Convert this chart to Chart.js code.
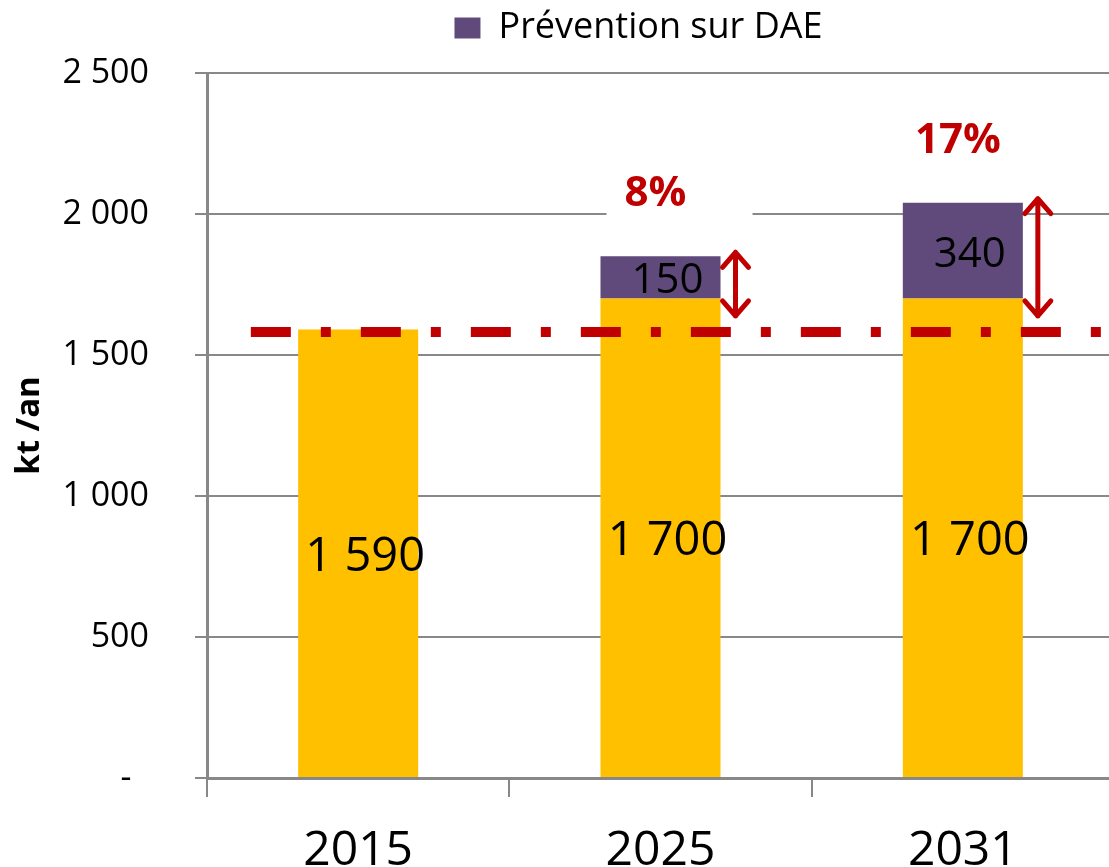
<!DOCTYPE html>
<html>
<head>
<meta charset="utf-8">
<script src="https://cdn.jsdelivr.net/npm/chart.js@4.4.0/dist/chart.umd.min.js"></script>
<style>
html, body { margin: 0; padding: 0; overflow: hidden; background: #ffffff; }
#wrap { width: 1109px; height: 867px; overflow: hidden; }
canvas { display: block; }
</style>
</head>
<body>
<div id="wrap"><canvas id="chart" width="1277" height="867" style="width:1277px;height:867px"></canvas></div>
<script>
// ---- data ----
const categories = ['2015', '2025', '2031'];
const baseName = 'Gisement DAE';
const baseValues = [1590, 1700, 1700];
const preventionName = 'Prévention sur DAE';
const preventionValues = [0, 150, 340];
const yTickValues = [0, 500, 1000, 1500, 2000, 2500];
const yTickLabels = ['-  ', '500', '1 000', '1 500', '2 000', '2 500'];
const yAxisTitle = 'kt /an';
const refLevel = 1582;          // 2015 reference level (dash-dot line)
const refLineX = [-0.355, 2.5]; // span of the reference line, in category units

// ---- helpers ----
const RED = '#C00000';
const FONT = "'Open Sans', 'Noto Sans', sans-serif";
const fmt = v => String(v).replace(/\B(?=(\d{3})+(?!\d))/g, ' ');

Chart.defaults.font.family = FONT;
Chart.defaults.color = '#000000';

const overlay = {
  id: 'overlay',
  afterDatasetsDraw(chart) {
    const ctx = chart.ctx;
    const xScale = chart.scales.x;
    const yScale = chart.scales.y;
    const lineY = yScale.getPixelForValue(refLevel);
    const mBase = chart.getDatasetMeta(0).data;
    const mPrev = chart.getDatasetMeta(1).data;
    ctx.save();
    // dash-dot reference line (2015 level)
    ctx.strokeStyle = RED;
    ctx.lineWidth = 10;
    ctx.lineCap = 'butt';
    ctx.setLineDash([40, 30, 10, 30]);
    ctx.beginPath();
    ctx.moveTo(xScale.getPixelForValue(refLineX[0]), lineY);
    ctx.lineTo(xScale.getPixelForValue(refLineX[1]), lineY);
    ctx.stroke();
    ctx.setLineDash([]);

    ctx.textAlign = 'center';
    ctx.textBaseline = 'middle';
    for (let i = 0; i < categories.length; i++) {
      const b = mBase[i];
      ctx.fillStyle = '#000';
      ctx.font = '47px ' + FONT;
      ctx.fillText(fmt(baseValues[i]), b.x + 7, (b.y + b.base) / 2 + 4);
      if (preventionValues[i] > 0) {
        const p = mPrev[i];
        ctx.font = '42px ' + FONT;
        ctx.fillStyle = '#000';
        ctx.fillText(fmt(preventionValues[i]), p.x + 7, (p.y + p.base) / 2 + 4);
        // percentage label with white box
        const pct = Math.round(preventionValues[i] / (baseValues[i] + preventionValues[i]) * 100) + '%';
        const tx = p.x - 5, ty = p.y - 62;
        ctx.fillStyle = '#ffffff';
        ctx.fillRect(tx - 49, ty - 28, 146, 58);
        ctx.fillStyle = RED;
        ctx.font = 'bold 42px ' + FONT;
        ctx.fillText(pct, tx, ty);
        // double arrow
        const ax = p.x + p.width / 2 + 15;
        const y1 = p.y - 4, y2 = lineY - 16;
        ctx.strokeStyle = RED;
        ctx.lineWidth = 5;
        ctx.lineCap = 'round';
        ctx.lineJoin = 'round';
        ctx.beginPath();
        ctx.moveTo(ax, y1); ctx.lineTo(ax, y2);
        ctx.moveTo(ax - 13, y1 + 15); ctx.lineTo(ax, y1); ctx.lineTo(ax + 13, y1 + 15);
        ctx.moveTo(ax - 13, y2 - 15); ctx.lineTo(ax, y2); ctx.lineTo(ax + 13, y2 - 15);
        ctx.stroke();
      }
    }
    ctx.restore();
  }
};

new Chart(document.getElementById('chart'), {
  type: 'bar',
  data: {
    labels: categories,
    datasets: [
      {
        label: baseName,
        data: baseValues,
        backgroundColor: '#FFC000',
        borderWidth: 0
      },
      {
        label: preventionName,
        data: preventionValues,
        backgroundColor: '#604A7B',
        borderWidth: 0
      }
    ]
  },
  options: {
    responsive: false,
    animation: false,
    layout: { padding: 0 },
    datasets: { bar: { categoryPercentage: 1.0, barPercentage: 0.397 } },
    plugins: {
      tooltip: { enabled: false },
      title: {
        display: true,
        text: '',
        weight: 500,
        font: { size: 17, lineHeight: 1 },
        padding: 0
      },
      legend: {
        position: 'top',
        align: 'center',
        fullSize: true,
        labels: {
          filter: item => item.datasetIndex === 1,
          font: { size: 36, family: FONT },
          color: '#000',
          boxWidth: 26,
          boxHeight: 21,
          padding: 10
        }
      }
    },
    scales: {
      x: {
        stacked: true,
        offset: true,
        grid: { display: true, drawOnChartArea: false, drawTicks: true, tickLength: 19, color: '#888888', lineWidth: 2, offset: true },
        border: { display: true, color: '#888888', width: 3 },
        ticks: { font: { size: 48, family: FONT }, color: '#000', padding: 26, maxRotation: 0 },
        afterFit(s) { s.height = 89; }
      },
      y: {
        stacked: true,
        min: 0,
        max: 2500,
        grid: { color: '#888888', lineWidth: 2, tickLength: 12, drawTicks: true },
        border: { display: true, color: '#888888', width: 3 },
        ticks: {
          stepSize: 500,
          autoSkip: false,
          font: { size: 34, family: FONT },
          color: '#000',
          padding: 46,
          callback: v => { const k = yTickValues.indexOf(v); return k >= 0 ? yTickLabels[k] : ''; }
        },
        title: {
          display: true,
          text: yAxisTitle,
          font: { size: 33, weight: 'bold', family: FONT },
          color: '#000',
          padding: { top: 10, bottom: 0 }
        },
        afterFit(s) { s.width = 207; }
      },
      yRight: {
        type: 'linear',
        position: 'right',
        display: true,
        grid: { display: false },
        border: { display: false },
        ticks: { display: false },
        afterFit(s) { s.width = 163; }
      }
    }
  },
  plugins: [overlay]
});
</script>
</body>
</html>
